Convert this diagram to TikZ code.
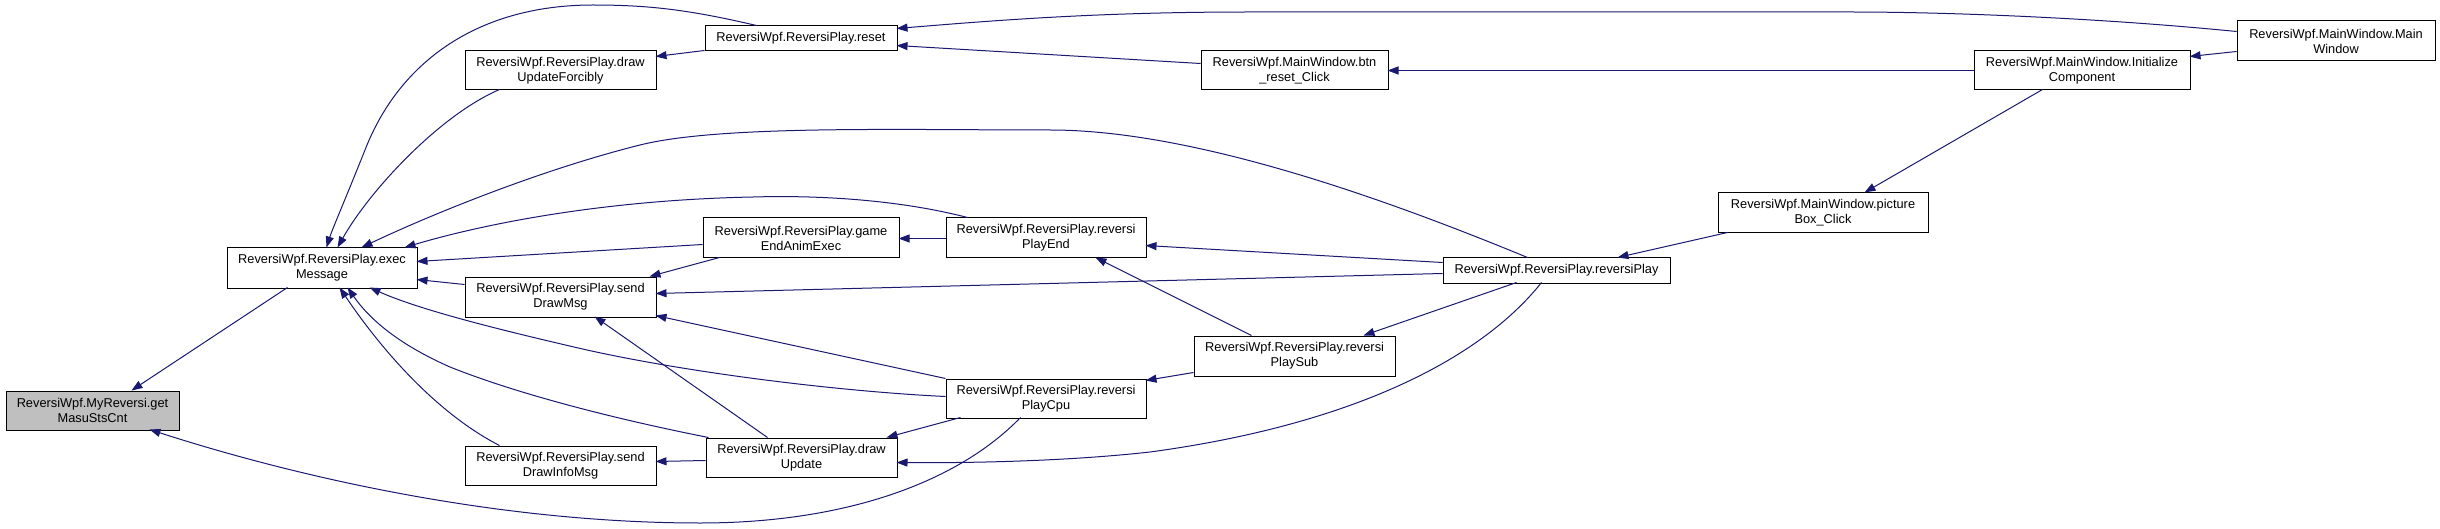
\documentclass[tikz,border=0pt]{standalone}
\usepackage{fontspec}
\setmainfont{Liberation Sans}
\usetikzlibrary{arrows.meta,calc}
\definecolor{edgeblue}{RGB}{25,25,112}
\definecolor{nodegray}{RGB}{191,191,191}
\begin{document}
\begin{tikzpicture}[x=1pt,y=-1pt,
  fn/.style={draw=black, line width=1pt, fill=white, inner sep=0pt, align=center,
    font=\fontsize{12.8}{15}\selectfont, rectangle},
  edge/.style={draw=edgeblue, line width=1pt, -{Triangle[length=11pt,width=8pt]}, fill=none}]
\useasboundingbox (0,0) rectangle (2440,529);
% nodes
\node[fn, fill=nodegray, minimum width=173pt, minimum height=39pt] (gm) at (92.5,410.5) {ReversiWpf.MyReversi.get\\MasuStsCnt};
\node[fn, minimum width=190pt, minimum height=40pt] (em) at (322,268) {ReversiWpf.ReversiPlay.exec\\Message};
\node[fn, minimum width=192pt, minimum height=25pt] (reset) at (801,38.5) {ReversiWpf.ReversiPlay.reset};
\node[fn, minimum width=191pt, minimum height=39pt] (duf) at (560.5,70.5) {ReversiWpf.ReversiPlay.draw\\UpdateForcibly};
\node[fn, minimum width=196pt, minimum height=40pt] (geae) at (801,238) {ReversiWpf.ReversiPlay.game\\EndAnimExec};
\node[fn, minimum width=191pt, minimum height=40pt] (sdm) at (560.5,297) {ReversiWpf.ReversiPlay.send\\DrawMsg};
\node[fn, minimum width=191pt, minimum height=39pt] (sdim) at (560.5,465.5) {ReversiWpf.ReversiPlay.send\\DrawInfoMsg};
\node[fn, minimum width=191pt, minimum height=39pt] (du) at (801.5,457.5) {ReversiWpf.ReversiPlay.draw\\Update};
\node[fn, minimum width=187pt, minimum height=39pt] (btn) at (1294.5,70.5) {ReversiWpf.MainWindow.btn\\\_reset\_Click};
\node[fn, minimum width=200pt, minimum height=40pt] (rpe) at (1046,238) {ReversiWpf.ReversiPlay.reversi\\PlayEnd};
\node[fn, minimum width=201pt, minimum height=40pt] (rps) at (1294.5,356) {ReversiWpf.ReversiPlay.reversi\\PlaySub};
\node[fn, minimum width=200pt, minimum height=39pt] (rpc) at (1046,398.5) {ReversiWpf.ReversiPlay.reversi\\PlayCpu};
\node[fn, minimum width=227pt, minimum height=25pt] (rp) at (1556.5,270.5) {ReversiWpf.ReversiPlay.reversiPlay};
\node[fn, minimum width=210pt, minimum height=40pt] (pbc) at (1823,213) {ReversiWpf.MainWindow.picture\\Box\_Click};
\node[fn, minimum width=216pt, minimum height=39pt] (ic) at (2082,70.5) {ReversiWpf.MainWindow.Initialize\\Component};
\node[fn, minimum width=198pt, minimum height=40pt] (mw) at (2336,41) {ReversiWpf.MainWindow.Main\\Window};
% edges
\draw[edge] ($(em.north west)+(61,40)$) -- ($(gm.north west)+(126,0)$);
\draw[edge] ($(rpc.north west)+(75,39)$) .. controls (960,480) and (850,523) .. (700,523) .. controls (500,523) and (300,478) .. ($(gm.north west)+(144,39)$);
\draw[edge] ($(reset.north west)+(52,0)$) .. controls (690,10) and (650,5) .. (593,5) .. controls (480,5) and (400,60) .. (365,150) .. controls (345,200) and (332,230) .. ($(em.north west)+(100,0)$);
\draw[edge] ($(duf.north west)+(35,39)$) .. controls (440,115) and (370,190) .. ($(em.north west)+(111,0)$);
\draw[edge] ($(rp.north west)+(85,0)$) .. controls (1400,205) and (1200,130) .. (1050,130) .. controls (900,130) and (720,125) .. (640,145) .. controls (540,170) and (430,215) .. ($(em.north west)+(135,0)$);
\draw[edge] ($(rpe.north west)+(22,0)$) .. controls (900,200) and (820,195) .. (753,197) .. controls (600,200) and (480,225) .. ($(em.north west)+(178,0)$);
\draw[edge] ($(geae.north west)+(0,27)$) -- ($(em.north west)+(190,14)$);
\draw[edge] ($(sdm.north west)+(0,8)$) -- ($(em.north west)+(190,32)$);
\draw[edge] ($(rpc.north west)+(0,18)$) .. controls (850,392) and (700,375) .. (587,350) .. controls (500,330) and (420,310) .. ($(em.north west)+(143,40)$);
\draw[edge] ($(du.north west)+(3,0)$) .. controls (620,420) and (520,395) .. (450,367) .. controls (400,345) and (370,320) .. ($(em.north west)+(121,40)$);
\draw[edge] ($(sdim.north west)+(35,0)$) .. controls (440,415) and (385,355) .. ($(em.north west)+(113,40)$);
\draw[edge] ($(mw.north west)+(0,11)$) .. controls (2100,18) and (1950,12) .. (1850,12) -- (1250,12) .. controls (1100,12) and (1000,20) .. ($(reset.north west)+(192,3)$);
\draw[edge] ($(btn.north west)+(0,13)$) -- ($(reset.north west)+(192,20)$);
\draw[edge] ($(reset.north west)+(0,25)$) -- ($(duf.north west)+(191,6)$);
\draw[edge] ($(ic.north west)+(0,20)$) -- ($(btn.north west)+(187,20)$);
\draw[edge] ($(mw.north west)+(0,31)$) -- ($(ic.north west)+(216,6)$);
\draw[edge] ($(ic.north west)+(69,39)$) -- ($(pbc.north west)+(147,0)$);
\draw[edge] ($(pbc.north west)+(10,40)$) -- ($(rp.north west)+(175,0)$);
\draw[edge] ($(rpe.north west)+(0,21)$) -- ($(geae.north west)+(196,21)$);
\draw[edge] ($(geae.north west)+(17,40)$) -- ($(sdm.north west)+(185,0)$);
\draw[edge] ($(rp.north west)+(0,5)$) -- ($(rpe.north west)+(200,28)$);
\draw[edge] ($(rp.north west)+(0,16)$) -- ($(sdm.north west)+(191,17)$);
\draw[edge] ($(rps.north west)+(58,0)$) -- ($(rpe.north west)+(150,40)$);
\draw[edge] ($(rp.north west)+(74,25)$) -- ($(rps.north west)+(170,0)$);
\draw[edge] ($(rps.north west)+(0,37)$) -- ($(rpc.north west)+(200,2)$);
\draw[edge] ($(rp.north west)+(99,25)$) .. controls (1480,360) and (1350,425) .. (1150,452) .. controls (1060,462) and (960,463) .. ($(du.north west)+(191,25)$);
\draw[edge] ($(rpc.north west)+(15,39)$) -- ($(du.north west)+(181,0)$);
\draw[edge] ($(du.north west)+(62,0)$) -- ($(sdm.north west)+(130,40)$);
\draw[edge] ($(du.north west)+(0,23)$) -- ($(sdim.north west)+(191,16)$);
\draw[edge] ($(rpc.north west)+(0,0)$) -- ($(sdm.north west)+(191,39)$);
\end{tikzpicture}
\end{document}
